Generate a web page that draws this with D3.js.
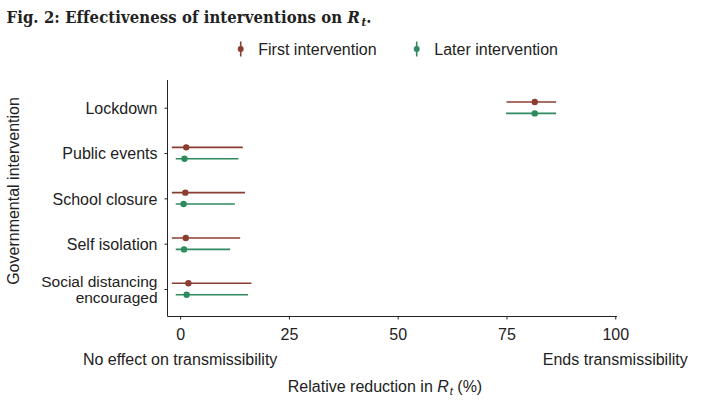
<!DOCTYPE html>
<html lang="en">
<head>
    <meta charset="UTF-8">
    <title>Fig. 2: Effectiveness of interventions on Rt</title>
    <script src="https://d3js.org/d3.v7.min.js"></script>
    <style>
        body { margin: 0; background: #fff; }
        svg { display: block; font-family: "Liberation Sans", Arial, sans-serif; }
        .axis path, .axis line { stroke: #222; }
        .axis text { font-size: 16px; fill: #222; }
    </style>
</head>
<body>
    <div id="chart"></div>

    <script>
        // Data (relative reduction in Rt, %)
        const interventions = ["Lockdown", "Public events", "School closure", "Self isolation", "Social distancing encouraged"];
        const seriesNames = ["First intervention", "Later intervention"];
        const seriesColors = ["#8b3d31", "#2f8a5f"];

        const firstMid = [81.5, 1.4, 1.2, 1.3, 1.9];
        const firstLow = [75.0, -1.9, -1.9, -1.9, -1.9];
        const firstHigh = [86.4, 14.4, 14.9, 13.8, 16.4];

        const laterMid = [81.5, 1.0, 0.8, 0.9, 1.5];
        const laterLow = [74.9, -1.0, -1.0, -1.0, -1.0];
        const laterHigh = [86.4, 13.4, 12.6, 11.5, 15.6];

        const xTicks = [0, 25, 50, 75, 100];

        const W = 705, H = 406;
        const svg = d3.select("#chart").append("svg")
            .attr("width", W)
            .attr("height", H);

        // Scales
        const xScale = d3.scaleLinear().domain([-2.9, 100.4]).range([167.5, 617]);
        const yScale = d3.scalePoint().domain(interventions).range([107.7, 289]);
        const dodge = d3.scalePoint().domain(seriesNames).range([-5.7, 5.7]);

        // Axes
        const xAxis = svg.append("g").attr("class", "axis")
            .attr("transform", "translate(0,316.5)")
            .call(d3.axisBottom(xScale).tickValues(xTicks).tickSize(3).tickPadding(9).tickSizeOuter(0));
        xAxis.select(".domain").attr("d", "M167.5,0H617");

        const yAxis = svg.append("g").attr("class", "axis")
            .attr("transform", "translate(167.5,0)")
            .call(d3.axisLeft(yScale).tickSize(3).tickPadding(7).tickSizeOuter(0));
        yAxis.select(".domain").attr("d", "M0,80V316.5");
        yAxis.selectAll(".tick text").attr("dy", "0.36em");

        // two-line label for the last category
        yAxis.selectAll(".tick text")
            .filter(d => d === "Social distancing encouraged")
            .text(null)
            .attr("dy", null)
            .style("font-size", "15.5px")
            .call(t => {
                t.append("tspan").attr("x", -10).attr("y", -3).text("Social distancing");
                t.append("tspan").attr("x", -10).attr("y", 13).text("encouraged");
            });

        // Rows for drawing
        const rows = [];
        interventions.forEach((name, i) => {
            rows.push({ name, series: seriesNames[0], color: seriesColors[0], mid: firstMid[i], lo: firstLow[i], hi: firstHigh[i] });
            rows.push({ name, series: seriesNames[1], color: seriesColors[1], mid: laterMid[i], lo: laterLow[i], hi: laterHigh[i] });
        });

        const marks = svg.append("g");
        marks.selectAll(".ci")
            .data(rows)
            .enter()
            .append("line")
            .attr("class", "ci")
            .attr("x1", d => xScale(d.lo))
            .attr("x2", d => xScale(d.hi))
            .attr("y1", d => yScale(d.name) + dodge(d.series))
            .attr("y2", d => yScale(d.name) + dodge(d.series))
            .attr("stroke", d => d.color)
            .attr("stroke-width", 1.6);

        marks.selectAll(".pt")
            .data(rows)
            .enter()
            .append("circle")
            .attr("class", "pt")
            .attr("cx", d => xScale(d.mid))
            .attr("cy", d => yScale(d.name) + dodge(d.series))
            .attr("r", 3.2)
            .attr("fill", d => d.color);

        // Legend
        const legendX = [240.7, 416.7];
        const legend = svg.append("g");
        seriesNames.forEach((s, i) => {
            const g = legend.append("g").attr("transform", `translate(${legendX[i]},49)`);
            g.append("line").attr("y1", -7.5).attr("y2", 7.5).attr("stroke", seriesColors[i]).attr("stroke-width", 1.6);
            g.append("circle").attr("r", 3).attr("fill", seriesColors[i]);
            g.append("text").attr("x", 17.6).attr("y", 5.5)
                .style("font-size", "16px").attr("fill", "#222").text(s);
        });

        // Title
        const title = svg.append("text")
            .attr("x", 6.5).attr("y", 22.7)
            .style("font-family", "'DejaVu Serif Condensed', 'DejaVu Serif', serif")
            .style("font-weight", "bold")
            .style("font-size", "16.5px")
            .attr("fill", "#222");
        title.append("tspan").text("Fig. 2: Effectiveness of interventions on ");
        title.append("tspan").style("font-style", "italic").text("R");
        title.append("tspan").style("font-style", "italic").style("font-size", "11.5px").attr("dx", 1.5).attr("dy", 3).text("t");
        title.append("tspan").attr("dy", -3).text(".");
        // spread the letters to the width of the original heading
        const tw = title.node().getComputedTextLength();
        const nChars = title.text().length;
        title.style("letter-spacing", `${(363 - tw) / nChars}px`);

        // Axis annotations
        svg.append("text")
            .attr("x", xScale(0)).attr("y", 365)
            .attr("text-anchor", "middle")
            .style("font-size", "16px").attr("fill", "#222")
            .text("No effect on transmissibility");
        svg.append("text")
            .attr("x", xScale(100)).attr("y", 365)
            .attr("text-anchor", "middle")
            .style("font-size", "16px").attr("fill", "#222")
            .text("Ends transmissibility");

        const xTitle = svg.append("text")
            .attr("x", 385).attr("y", 392)
            .attr("text-anchor", "middle")
            .style("font-size", "16px").attr("fill", "#222");
        xTitle.append("tspan").text("Relative reduction in ");
        xTitle.append("tspan").style("font-style", "italic").text("R");
        xTitle.append("tspan").style("font-style", "italic").style("font-size", "11px").attr("dx", 1).attr("dy", 3).text("t");
        xTitle.append("tspan").attr("dy", -3).text(" (%)");

        svg.append("text")
            .attr("transform", "translate(19,191) rotate(-90)")
            .attr("text-anchor", "middle")
            .style("font-size", "16px").attr("fill", "#222")
            .text("Governmental intervention");
    </script>
</body>
</html>
